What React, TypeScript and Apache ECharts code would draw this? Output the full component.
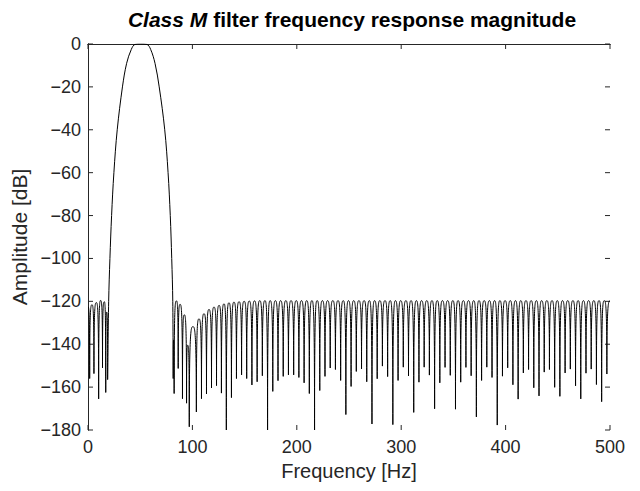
import React, { useEffect, useRef } from 'react';
import * as echarts from 'echarts';

// ---- Data ----
// Low stop band (0 – 19 Hz): alternating lobe peaks / nulls
const lowStopHz = [0, 1.6, 3.8, 5.7, 8.0, 10.2, 12.1, 13.9, 15.6, 17.0, 17.9, 18.8];
const lowStopDb = [-122.6, -156, -121.6, -153.7, -120.6, -165.5, -119.6, -151, -120.2, -162.5, -125, -156.5];

// Main lobe (pass band around 50 Hz)
const mainLobeHz = [18.8, 19.8, 21.0, 22.6, 24.8, 28.0, 33.0, 37.0, 41.5, 45.0, 50.5, 56.5, 60.0, 64.2, 68.2, 73.5, 76.7, 78.8, 80.2, 81.2, 81.6];
const mainLobeDb = [-156.5, -120, -100, -80, -60, -40, -20, -9, -2.5, -0.2, 0, -0.2, -2.5, -9, -20, -40, -60, -80, -100, -120, -156];

// Transition region of the upper stop band (81 – 175 Hz): peaks / nulls
const transitionHz = [81.6, 82.0, 82.5, 84.7, 86.4, 88.2, 90.5, 92.2, 94.4, 95.6, 97.0, 100.5, 103.8, 106.3, 108.7, 111.1, 113.5, 115.9, 118.3, 120.7, 123.1, 125.6, 127.8, 130.3, 132.5, 135.0, 137.4, 139.8, 142.2, 144.7, 147.1, 149.6, 152.0, 154.5, 157.0, 159.5, 162.0, 164.5, 167.0, 169.5, 172.0, 174.5];
const transitionDb = [-156, -138, -163, -119.8, -151.3, -121.4, -165.4, -126.3, -167.5, -140.5, -178.5, -131.8, -171.6, -128.2, -165.4, -125.8, -163.2, -123.8, -160.4, -122.7, -159.3, -121.9, -162.8, -121.2, -180, -120.7, -164.9, -120.4, -156, -120.2, -154.3, -120.0, -156, -119.9, -159, -119.8, -157.5, -119.7, -154.7, -119.7, -180, -119.7];

// Far stop band: null positions and depths
const stopNullHz = [177, 182, 187, 192, 197, 202, 207, 212, 217, 222, 227, 232, 237, 242, 247, 252, 257, 262, 267, 272, 277, 282, 287, 292, 297, 302, 307, 312, 317, 322, 327, 332, 337, 342, 347, 352, 357, 362, 367, 372, 377, 382, 387, 392, 397, 402, 407, 412, 417, 422, 427, 432, 437, 442, 447, 452, 457, 462, 467, 472, 477, 482, 487, 492, 497];
const stopNullDb = [-162, -157, -155, -154.3, -154.3, -155.5, -158, -163, -180, -161.6, -155, -151.1, -151.8, -156.9, -172.8, -159.7, -152.7, -151.5, -157.5, -177.2, -156.1, -150.2, -155.1, -177.5, -156.9, -150.7, -154.8, -171.8, -157.7, -150.7, -154.4, -170.1, -158, -150.8, -154.5, -170.3, -157.7, -150.8, -154.7, -173.9, -156.9, -150.7, -155.5, -177.7, -154.9, -151, -158.9, -165.6, -153.4, -151.8, -160.3, -164.1, -153, -151.8, -160.1, -164.3, -153.4, -151.6, -159.4, -165.5, -153.5, -151.6, -158.8, -166.8, -153.9];
// Far stop band: lobe peaks after each null (the last one is the value at 500 Hz)
const stopPeakHz = [179.5, 184.5, 189.5, 194.5, 199.5, 204.5, 209.5, 214.5, 219.5, 224.5, 229.5, 234.5, 239.5, 244.5, 249.5, 254.5, 259.5, 264.5, 269.5, 274.5, 279.5, 284.5, 289.5, 294.5, 299.5, 304.5, 309.5, 314.5, 319.5, 324.5, 329.5, 334.5, 339.5, 344.5, 349.5, 354.5, 359.5, 364.5, 369.5, 374.5, 379.5, 384.5, 389.5, 394.5, 399.5, 404.5, 409.5, 414.5, 419.5, 424.5, 429.5, 434.5, 439.5, 444.5, 449.5, 454.5, 459.5, 464.5, 469.5, 474.5, 479.5, 484.5, 489.5, 494.5, 500];
const stopPeakDb = [-119.7, -119.7, -119.7, -119.7, -119.7, -119.7, -119.7, -119.7, -119.7, -119.7, -119.7, -119.7, -119.7, -119.7, -119.7, -119.7, -119.7, -119.7, -119.7, -119.7, -119.7, -119.7, -119.7, -119.7, -119.7, -119.7, -119.7, -119.7, -119.7, -119.7, -119.7, -119.7, -119.7, -119.7, -119.7, -119.7, -119.7, -119.7, -119.7, -119.7, -119.7, -119.7, -119.7, -119.7, -119.7, -119.7, -119.7, -119.7, -119.7, -119.7, -119.7, -119.7, -119.7, -119.7, -119.7, -119.7, -119.7, -119.7, -119.7, -119.7, -119.7, -119.7, -119.7, -119.7, -119.8];

const xTickValues = [0, 100, 200, 300, 400, 500];
const yTickValues = [-180, -160, -140, -120, -100, -80, -60, -40, -20, 0];

const FONT = 'Arial, "Liberation Sans", Helvetica, sans-serif';
const AX = '#262626';
const TICK_LEN = 5;

function zip(xs: number[], ys: number[]): number[][] {
  return xs.map((x, i) => [x, ys[i]]);
}

// consecutive point pairs -> segments [x0, y0, x1, y1]
function segments(points: number[][]): number[][] {
  const out: number[][] = [];
  for (let i = 0; i + 1 < points.length; i++) {
    out.push([points[i][0], points[i][1], points[i + 1][0], points[i + 1][1]]);
  }
  return out;
}

const minus = (v: number) => String(v).replace('-', '\u2212');

export default function App() {
  const ref = useRef<HTMLDivElement>(null);
  useEffect(() => {
    document.body.style.margin = '0';
    if (!ref.current) return;
    const chart = echarts.init(ref.current, undefined, { renderer: 'svg' });

    const lowPts = zip(lowStopHz, lowStopDb);
    const upperPts: number[][] = zip(transitionHz, transitionDb);
    stopNullHz.forEach((h, i) => {
      upperPts.push([h, stopNullDb[i]]);
      upperPts.push([stopPeakHz[i], stopPeakDb[i]]);
    });
    const lobeSegs = segments(lowPts).concat(segments(upperPts));

    const axisLine = { show: true, lineStyle: { color: AX, width: 1 } };
    const xMin = xTickValues[0], xMax = xTickValues[xTickValues.length - 1];
    const yMin = yTickValues[0], yMax = yTickValues[yTickValues.length - 1];

    chart.setOption({
      animation: false,
      backgroundColor: '#fff',
      title: {
        text: '{a|Class M}{b| filter frequency response magnitude}',
        left: 347,
        top: 4,
        textAlign: 'center',
        textStyle: {
          rich: {
            a: { fontFamily: FONT, fontSize: 21, fontWeight: 'bold', fontStyle: 'italic', color: '#000' },
            b: { fontFamily: FONT, fontSize: 21, fontWeight: 'bold', color: '#000' },
          },
        },
      },
      grid: { left: 88, right: 30, top: 44, bottom: 61, containLabel: false },
      xAxis: [
        {
          type: 'value', min: xMin, max: xMax, interval: 100, position: 'bottom',
          name: 'Frequency [Hz]', nameLocation: 'middle', nameGap: 30,
          nameTextStyle: { fontFamily: FONT, fontSize: 20, color: AX },
          axisLine, axisTick: { show: false }, splitLine: { show: false },
          axisLabel: { fontFamily: FONT, fontSize: 18, color: AX, margin: 8, formatter: minus },
        },
        {
          type: 'value', min: xMin, max: xMax, interval: 100, position: 'top',
          axisLine, axisTick: { show: false }, splitLine: { show: false },
          axisLabel: { show: false },
        },
      ],
      yAxis: [
        {
          type: 'value', min: yMin, max: yMax, interval: 20, position: 'left',
          name: 'Amplitude [dB]', nameLocation: 'middle', nameGap: 47,
          nameTextStyle: { fontFamily: FONT, fontSize: 21, color: AX },
          axisLine, axisTick: { show: false }, splitLine: { show: false },
          axisLabel: { fontFamily: FONT, fontSize: 18, color: AX, margin: 7, formatter: minus },
        },
        {
          type: 'value', min: yMin, max: yMax, interval: 20, position: 'right',
          axisLine, axisTick: { show: false }, splitLine: { show: false },
          axisLabel: { show: false },
        },
      ],
      series: [
        {
          type: 'custom',
          data: lobeSegs,
          encode: { x: [0, 2], y: [1, 3] },
          clip: true,
          silent: true,
          renderItem: (params: any, api: any) => {
            const a = api.coord([api.value(0), api.value(1)]);
            const b = api.coord([api.value(2), api.value(3)]);
            // lower point (null side) gets a vertical tangent, higher point a horizontal one
            const lo = a[1] > b[1] ? a : b;
            const hi = a[1] > b[1] ? b : a;
            return {
              type: 'bezierCurve',
              shape: {
                x1: lo[0], y1: lo[1],
                cpx1: lo[0], cpy1: hi[1],
                cpx2: hi[0] - 0.5 * (hi[0] - lo[0]), cpy2: hi[1],
                x2: hi[0], y2: hi[1],
              },
              style: { stroke: '#000', lineWidth: 1, fill: 'none' },
            };
          },
        },
        {
          type: 'line', data: zip(mainLobeHz, mainLobeDb), showSymbol: false, clip: true,
          smooth: 0.35, lineStyle: { color: '#000', width: 1 }, silent: true,
        },
      ],
    });

    // box ticks pointing inwards on all four sides, placed with the axes' own scales
    const g: any[] = [];
    const tickStyle = { stroke: AX, lineWidth: 1 };
    xTickValues.forEach((v) => {
      const pb = chart.convertToPixel({ gridIndex: 0 }, [v, yMin]) as number[];
      const pt = chart.convertToPixel({ gridIndex: 0 }, [v, yMax]) as number[];
      g.push({ type: 'line', shape: { x1: pb[0], y1: pb[1], x2: pb[0], y2: pb[1] - TICK_LEN }, style: tickStyle, silent: true });
      g.push({ type: 'line', shape: { x1: pt[0], y1: pt[1], x2: pt[0], y2: pt[1] + TICK_LEN }, style: tickStyle, silent: true });
    });
    yTickValues.forEach((v) => {
      const pl = chart.convertToPixel({ gridIndex: 0 }, [xMin, v]) as number[];
      const pr = chart.convertToPixel({ gridIndex: 0 }, [xMax, v]) as number[];
      g.push({ type: 'line', shape: { x1: pl[0], y1: pl[1], x2: pl[0] + TICK_LEN, y2: pl[1] }, style: tickStyle, silent: true });
      g.push({ type: 'line', shape: { x1: pr[0], y1: pr[1], x2: pr[0] - TICK_LEN, y2: pr[1] }, style: tickStyle, silent: true });
    });
    chart.setOption({ graphic: g });

    return () => chart.dispose();
  }, []);
  return <div ref={ref} style={{ width: 640, height: 491 }} />;
}
